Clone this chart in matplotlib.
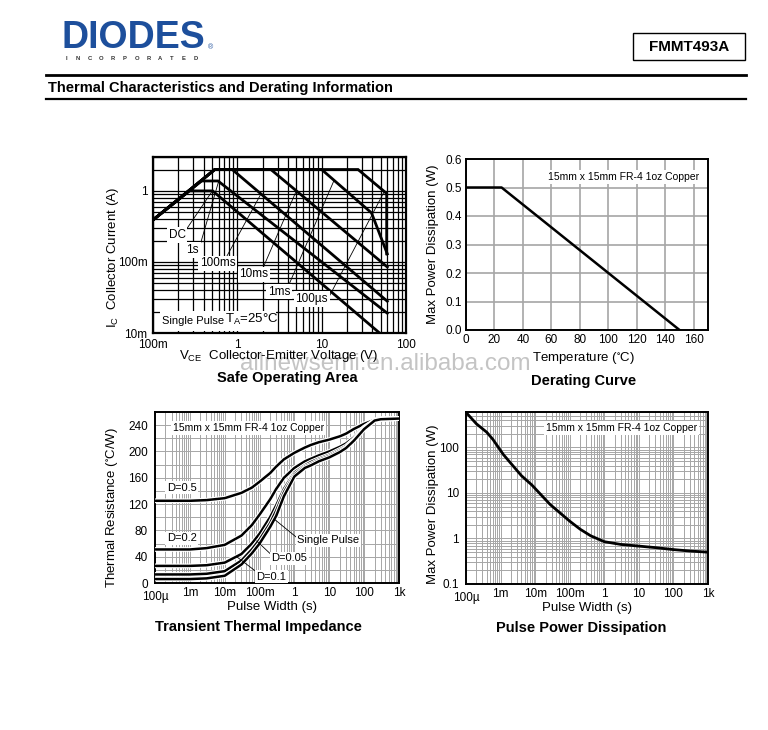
import numpy as np
import matplotlib
matplotlib.use('Agg')
import matplotlib.pyplot as plt
from matplotlib.ticker import FixedLocator, NullFormatter, LogLocator, MultipleLocator
from matplotlib.patches import Rectangle
from matplotlib.lines import Line2D
from matplotlib.transforms import ScaledTranslation

plt.rcParams['font.family'] = ['Liberation Sans', 'DejaVu Sans']
plt.rcParams['mathtext.default'] = 'regular'

W, H = 768, 730

# ---- Safe operating area (V in volts, I in amps) ----
soa_names = ['DC', '1s', '100ms', '10ms', '1ms', '100µs']
soa_v = [
    [0.1, 0.27, 0.51, 48.6],
    [0.1, 0.377, 0.59, 60],
    [0.1, 0.54, 0.87, 60],
    [0.1, 0.54, 2.5, 60],
    [0.1, 0.54, 10, 39, 60],
    [0.1, 0.54, 27, 59, 59],
]
soa_i = [
    [0.39, 1.0, 1.0, 0.01],
    [0.39, 1.38, 1.38, 0.019],
    [0.39, 2.0, 2.0, 0.028],
    [0.39, 2.0, 2.0, 0.085],
    [0.39, 2.0, 2.0, 0.49, 0.13],
    [0.39, 2.0, 2.0, 0.92, 0.13],
]
soa_lbl_xy = [(0.194, 0.239), (0.295, 0.147), (0.58, 0.096),
              (1.57, 0.067), (3.12, 0.038), (7.6, 0.030)]
soa_lead = [((0.24, 0.27), (0.50, 0.98)),
            ((0.36, 0.17), (0.60, 1.36)),
            ((0.72, 0.11), (1.9, 0.9)),
            ((1.95, 0.075), (5.0, 1.0)),
            ((3.9, 0.042), (14, 1.4)),
            ((12, 0.031), (55, 0.97))]

# ---- Derating ----
der_t = [0, 25, 150]
der_p = [0.5, 0.5, 0.0]

# ---- Transient thermal impedance ----
tz_t = [1e-4, 1e-3, 3e-3, 1e-2, 3e-2, 0.06, 0.1, 0.2, 0.3, 0.5, 1, 2, 3, 5,
        10, 20, 30, 50, 100, 200, 300, 1000]
tz_d05 = [125, 125, 126, 129, 137, 145, 154, 167, 177, 188, 198, 206, 210, 214,
          218, 223, 227, 234, 242, 248, 250, 250]
tz_d02 = [51, 51, 53, 58, 72, 88, 104, 127, 143, 160, 175, 185, 189, 194,
          200, 207, 212, 221, 237, 247, 249, 250]
tz_d01 = [26, 26, 27, 31, 44, 60, 75, 100, 118, 143, 168, 179, 184, 189,
          195, 203, 208, 218, 236, 247, 249, 250]
tz_d005 = [13, 13, 14, 18, 34, 51, 66, 91, 110, 138, 165, 177, 181, 187,
           193, 201, 206, 217, 235, 247, 249, 250]
tz_sp = [6, 6, 7, 11, 28, 45, 60, 85, 102, 132, 162, 175, 179, 185,
         191, 199, 205, 216, 234, 247, 249, 250]

# ---- Pulse power ----
pp_t = [1e-4, 2e-4, 4e-4, 6e-4, 1.2e-3, 4e-3, 8e-3, 0.027, 0.1, 0.2, 0.4,
        1, 3, 10, 30, 100, 300, 1000]
pp_p = [590, 330, 215, 150, 70, 24, 15, 5.6, 2.4, 1.6, 1.15,
        0.85, 0.74, 0.68, 0.63, 0.57, 0.53, 0.5]

time_ticks = [1e-4, 1e-3, 1e-2, 1e-1, 1, 10, 100, 1000]
time_labels = ['100µ', '1m', '10m', '100m', '1', '10', '100', '1k']

copper = '15mm x 15mm FR-4 1oz Copper'

fig = plt.figure(figsize=(W / 100, H / 100), dpi=100)


def ftext(x, y, s, **kw):
    return fig.text(x / W, 1 - y / H, s, **kw)


def add_ax(x0, y0, x1, y1):
    return fig.add_axes([x0 / W, 1 - y1 / H, (x1 - x0) / W, (y1 - y0) / H])


def fline(x0, y0, x1, y1, lw):
    fig.add_artist(Line2D([x0 / W, x1 / W], [1 - y0 / H, 1 - y1 / H],
                          color='black', lw=lw, transform=fig.transFigure))


def drop_first_label(ax):
    # the "100µ" label sits a bit lower in the original
    lab = ax.xaxis.get_majorticklabels()[0]
    lab.set_transform(lab.get_transform() +
                      ScaledTranslation(0, -4 / 100, fig.dpi_scale_trans))


# header
ftext(62, 38, 'DIODES', fontsize=27, fontweight='bold', color='#1d4f9c',
      va='center', ha='left')
fig.add_artist(Line2D([60 / W, 208 / W], [1 - 37.5 / H, 1 - 37.5 / H],
                      color='white', lw=1.4, transform=fig.transFigure))
ftext(208, 48, '®', fontsize=5, color='#1d4f9c', va='center')
for k, ch in enumerate('INCORPORATED'):
    ftext(66 + k * 11.8, 58, ch, fontsize=4.2, fontweight='bold',
          color='#333333', ha='center', va='center')
fig.add_artist(Rectangle((633 / W, 1 - 60 / H), 112 / W, 27 / H, fill=False,
                         ec='black', lw=1, transform=fig.transFigure))
ftext(689, 47, 'FMMT493A', fontsize=11, fontweight='bold', ha='center', va='center')
fline(46, 75, 746, 75, 2.0)
ftext(48, 88, 'Thermal Characteristics and Derating Information', fontsize=10.5,
      fontweight='bold', ha='left', va='center')
fline(46, 99, 746, 99, 1.6)

tick_fs = 8.5
lab_fs = 9.5
tit_fs = 10.5

# ---- SOA ----
ax = add_ax(153, 157, 406, 333)
ax.set_xscale('log')
ax.set_yscale('log')
ax.set_xlim(0.1, 100)
ax.set_ylim(0.01, 3)
ax.xaxis.set_major_locator(FixedLocator([0.1, 1, 10, 100]))
ax.set_xticklabels(['100m', '1', '10', '100'])
ax.yaxis.set_major_locator(FixedLocator([0.01, 0.1, 1]))
ax.set_yticklabels(['10m', '100m', '1'])
ax.xaxis.set_minor_locator(LogLocator(subs=np.arange(2, 10)))
ax.yaxis.set_minor_locator(LogLocator(subs=np.arange(2, 10)))
ax.xaxis.set_minor_formatter(NullFormatter())
ax.yaxis.set_minor_formatter(NullFormatter())
ax.grid(which='both', color='black', lw=0.9)
ax.set_axisbelow(True)
ax.tick_params(which='both', length=0, labelsize=tick_fs, pad=4)
for s in ax.spines.values():
    s.set_linewidth(1.6)
for v, i in zip(soa_v, soa_i):
    ax.plot(v, i, color='black', lw=2.0, zorder=3, solid_joinstyle='miter')
for (p0, p1) in soa_lead:
    ax.plot([p0[0], p1[0]], [p0[1], p1[1]], color='black', lw=0.6, zorder=2)
for name, (x, y) in zip(soa_names, soa_lbl_xy):
    ax.text(x, y, name, fontsize=8.5, ha='center', va='center', zorder=5,
            bbox=dict(fc='white', ec='none', pad=1.2))
ax.add_patch(Rectangle((0.121, 0.0107), 2.87 - 0.121, 0.0205 - 0.0107,
                       fc='white', ec='none', zorder=4))
ax.text(0.295, 0.0146, 'Single Pulse', fontsize=8, ha='center', va='center', zorder=5)
ax.text(1.48, 0.0154, 'T$_A$=25°C', fontsize=9.5, ha='center', va='center', zorder=5)

ftext(113, 258, 'I$_C$  Collector Current (A)', rotation=90, fontsize=lab_fs,
      ha='center', va='center')
ftext(279, 356, 'V$_{CE}$  Collector-Emitter Voltage (V)', fontsize=lab_fs,
      ha='center', va='center', zorder=3)

# watermark
ftext(385, 364, 'allnewsemi.en.alibaba.com', fontsize=17.5, color='#c4c4c4',
      ha='center', va='center', zorder=1)

ftext(287, 378, 'Safe Operating Area', fontsize=tit_fs, fontweight='bold',
      ha='center', va='center', zorder=3)

# ---- Derating ----
ax = add_ax(466, 159, 708, 330)
ax.plot(der_t, der_p, color='black', lw=1.8, zorder=3)
ax.set_xlim(0, 170)
ax.set_ylim(0, 0.6)
ax.set_xticks(np.arange(0, 161, 20))
ax.set_yticks(np.arange(0, 0.61, 0.1))
ax.set_yticklabels(['%.1f' % v for v in np.arange(0, 0.61, 0.1)])
ax.grid(color='#a6a6a6', lw=1.2)
ax.set_axisbelow(True)
ax.tick_params(length=0, labelsize=tick_fs, pad=3)
for s in ax.spines.values():
    s.set_linewidth(1.4)
ax.text(0.65, 0.896, copper, transform=ax.transAxes, fontsize=7.5,
        ha='center', va='center', bbox=dict(fc='white', ec='none', pad=1.5))
ftext(433, 244, 'Max Power Dissipation (W)', rotation=90, fontsize=lab_fs,
      ha='center', va='center')
ftext(583, 358, 'Temperature ($^{\\circ}$C)', fontsize=lab_fs, ha='center', va='center',
      zorder=3)
ftext(584, 381, 'Derating Curve', fontsize=tit_fs, fontweight='bold',
      ha='center', va='center', zorder=3)

# ---- Transient thermal impedance ----
ax = add_ax(155, 412, 399, 583)
ax.set_xscale('log')
ax.set_xlim(1e-4, 1e3)
ax.set_ylim(0, 260)
for z in [tz_d05, tz_d02, tz_d01, tz_d005, tz_sp]:
    ax.plot(tz_t, z, color='white', lw=3.4, zorder=3)
    ax.plot(tz_t, z, color='black', lw=1.8, zorder=3)
ax.xaxis.set_major_locator(FixedLocator(time_ticks))
ax.set_xticklabels(time_labels)
ax.xaxis.set_minor_locator(LogLocator(subs=np.arange(2, 10)))
ax.xaxis.set_minor_formatter(NullFormatter())
ax.set_yticks(np.arange(0, 241, 40))
ax.yaxis.set_minor_locator(MultipleLocator(20))
ax.grid(which='both', color='#a6a6a6', lw=0.7)
ax.set_axisbelow(True)
ax.tick_params(which='both', length=0, labelsize=tick_fs, pad=3)
ax.tick_params(axis='y', pad=5)
drop_first_label(ax)
for s in ax.spines.values():
    s.set_linewidth(1.4)
ax.text(0.382, 0.905, copper, transform=ax.transAxes, fontsize=7.5,
        ha='center', va='center', zorder=5, bbox=dict(fc='white', ec='none', pad=1.5))
ax.text(2.2e-4, 145, 'D=0.5', fontsize=8, ha='left', va='center', zorder=5,
        bbox=dict(fc='white', ec='none', pad=1.2))
ax.text(2.2e-4, 68, 'D=0.2', fontsize=8, ha='left', va='center', zorder=5,
        bbox=dict(fc='white', ec='none', pad=1.2))
ax.plot([0.074, 0.022], [18.7, 40], color='black', lw=0.6, zorder=4)
ax.text(0.22, 9.6, 'D=0.1', fontsize=8, ha='center', va='center', zorder=5,
        bbox=dict(fc='white', ec='none', pad=1.2))
ax.plot([0.28, 0.083], [37.5, 63.9], color='black', lw=0.6, zorder=4)
ax.text(0.71, 37.5, 'D=0.05', fontsize=8, ha='center', va='center', zorder=5,
        bbox=dict(fc='white', ec='none', pad=1.2))
ax.plot([1.24, 0.28], [68, 96], color='black', lw=0.6, zorder=4)
ax.text(9.4, 65, 'Single Pulse', fontsize=8, ha='center', va='center', zorder=5,
        bbox=dict(fc='white', ec='none', pad=1.2))
ftext(112, 508, 'Thermal Resistance ($^{\\circ}$C/W)', rotation=90, fontsize=lab_fs,
      ha='center', va='center')
ftext(272, 607, 'Pulse Width (s)', fontsize=lab_fs, ha='center', va='center')
ftext(258, 627, 'Transient Thermal Impedance', fontsize=tit_fs, fontweight='bold',
      ha='center', va='center')

# ---- Pulse power dissipation ----
ax = add_ax(466, 412, 708, 584)
ax.set_xscale('log')
ax.set_yscale('log')
ax.set_xlim(1e-4, 1e3)
ax.set_ylim(0.1, 600)
ax.plot(pp_t, pp_p, color='black', lw=2.0, zorder=3)
ax.xaxis.set_major_locator(FixedLocator(time_ticks))
ax.set_xticklabels(time_labels)
ax.yaxis.set_major_locator(FixedLocator([0.1, 1, 10, 100]))
ax.set_yticklabels(['0.1', '1', '10', '100'])
ax.xaxis.set_minor_locator(LogLocator(subs=np.arange(2, 10)))
ax.yaxis.set_minor_locator(LogLocator(subs=np.arange(2, 10)))
ax.xaxis.set_minor_formatter(NullFormatter())
ax.yaxis.set_minor_formatter(NullFormatter())
ax.grid(which='both', color='#a6a6a6', lw=0.7)
ax.set_axisbelow(True)
ax.tick_params(which='both', length=0, labelsize=tick_fs, pad=3)
ax.tick_params(axis='y', pad=5)
drop_first_label(ax)
for s in ax.spines.values():
    s.set_linewidth(1.4)
ax.text(0.643, 0.905, copper, transform=ax.transAxes, fontsize=7.5,
        ha='center', va='center', zorder=5, bbox=dict(fc='white', ec='none', pad=1.5))
ftext(433, 504, 'Max Power Dissipation (W)', rotation=90, fontsize=lab_fs,
      ha='center', va='center')
ftext(587, 608, 'Pulse Width (s)', fontsize=lab_fs, ha='center', va='center')
ftext(581, 628, 'Pulse Power Dissipation', fontsize=tit_fs, fontweight='bold',
      ha='center', va='center')

fig.savefig('out.png', dpi=100)
